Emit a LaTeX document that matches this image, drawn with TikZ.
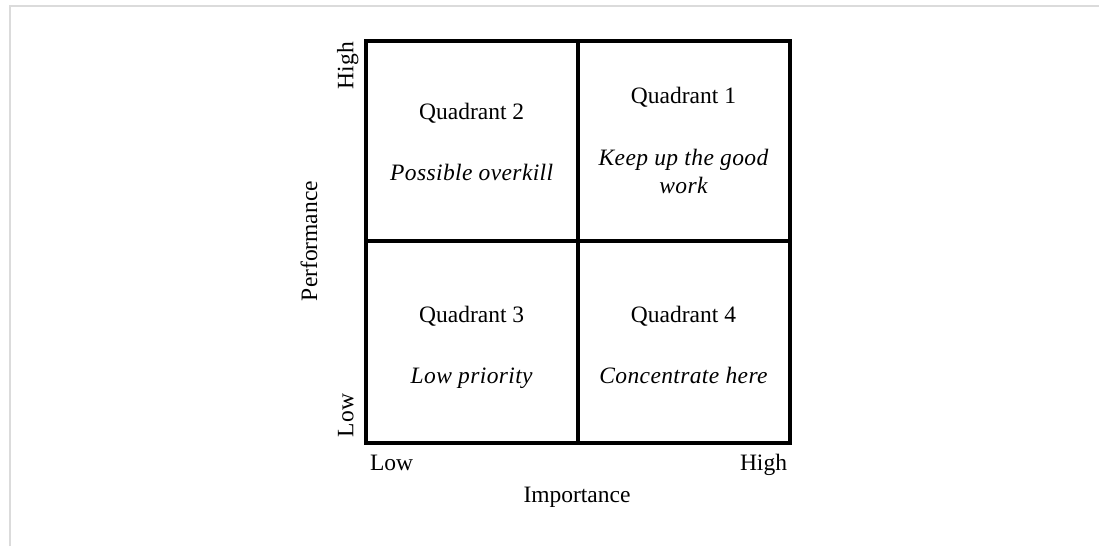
\documentclass[tikz,border=0pt]{standalone}
\usepackage{fontspec}
\setmainfont{Liberation Serif}
\newfontfamily\descfont[LetterSpace=1.6]{Liberation Serif}
\begin{document}
\begin{tikzpicture}[x=1pt,y=-1pt,
  every node/.style={inner sep=0pt,outer sep=0pt,font=\fontsize{23.5}{28}\selectfont},
  grid/.style={line width=4pt,black},
  frame/.style={line width=2pt,color=black!14},
  title/.style={anchor=base},
  desc/.style={anchor=base,font=\fontsize{23.5}{28}\selectfont\descfont\itshape},
  axislab/.style={anchor=base}]
\useasboundingbox (0,0) rectangle (1099,546);
% outer frame (top and left edges)
\coordinate (f1) at (9.5,546);
\coordinate (f2) at (9.5,6);
\coordinate (f3) at (1099,6);
\draw[frame] (f1) -- (f2) -- (f3);
% grid
\coordinate (tl) at (366,41);
\coordinate (br) at (789.5,442.5);
\coordinate (mt) at (577.5,41);
\coordinate (mb) at (577.5,442.5);
\coordinate (ml) at (366,241);
\coordinate (mr) at (789.5,241);
\draw[grid] (tl) rectangle (br);
\draw[grid] (mt) -- (mb);
\draw[grid] (ml) -- (mr);
% quadrant texts
\node[title] (q2) at (471.7,119.3) {Quadrant 2};
\node[desc] (d2) at (471.7,180) {Possible overkill};
\node[title] (q1) at (683.5,103.3) {Quadrant 1};
\node[desc] (d1a) at (683.5,165) {Keep up the good};
\node[desc] (d1b) at (683.5,193.3) {work};
\node[title] (q3) at (471.7,322.3) {Quadrant 3};
\node[desc] (d3) at (471.7,383.3) {Low priority};
\node[title] (q4) at (683.5,322.3) {Quadrant 4};
\node[desc] (d4) at (683.5,383.3) {Concentrate here};
% axis labels
\node[anchor=base west,rotate=90] (yhigh) at (353.3,89) {High};
\node[anchor=base west,rotate=90] (ylow) at (353.3,437) {Low};
\node[anchor=base,rotate=90] (yperf) at (317,241) {Performance};
\node[anchor=base west] (xlow) at (370,470) {Low};
\node[anchor=base east] (xhigh) at (787,470) {High};
\node[anchor=base] (ximp) at (577,502.7) {Importance};
\end{tikzpicture}
\end{document}
